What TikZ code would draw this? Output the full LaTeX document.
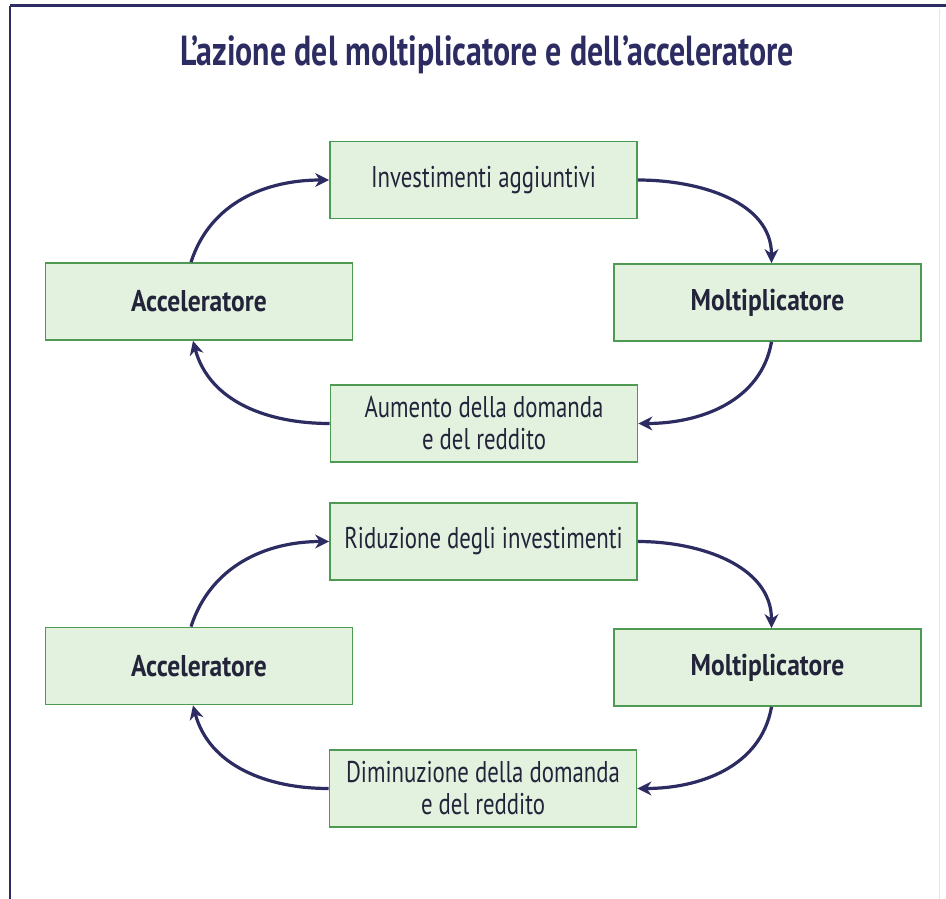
\documentclass[tikz,border=0pt]{standalone}
\usepackage{fontspec}
\setmainfont{PT Sans}[FakeStretch=0.76]
\newfontfamily\keyfont{PT Sans}[FakeStretch=0.85]
\usepackage{xcolor}
\usetikzlibrary{arrows.meta, positioning}
\definecolor{bgreen}{HTML}{E2F2DF}
\definecolor{bline}{HTML}{4E9A52}
\definecolor{knavy}{HTML}{2C2C62}
\definecolor{ktext}{HTML}{23233A}

\begin{document}
\begin{tikzpicture}[x=1pt, y=1pt,
  box/.style={draw=bline, fill=bgreen, line width=1.8pt, minimum width=307pt,
    minimum height=77pt, inner sep=0pt, align=center, text=ktext,
    font=\fontsize{30}{32}\selectfont},
  keybox/.style={box, font=\keyfont\fontsize{30}{32}\selectfont\bfseries},
  flow/.style={draw=knavy, line width=3.2pt, -{Stealth[length=14pt,width=14pt]}}]
\useasboundingbox (0,0) rectangle (946,-899);
% frame
\draw[knavy, line width=3pt] (10,-6) -- (946,-6);
\draw[knavy, line width=2pt] (10,-6) -- (10,-899);
\draw[gray!20, line width=1pt] (939,-9) -- (939,-899);
\node[font=\fontsize{42}{46}\selectfont\bfseries, text=knavy] (title)
  at (487,-55) {L’azione del moltiplicatore e dell’acceleratore};
% upper cycle
\node[box] (inva) at (483.5,-180) {Investimenti aggiuntivi};
\node[keybox] (acca) at (199,-301.5) {Acceleratore};
\node[keybox] (molta) at (767.5,-302.5) {Moltiplicatore};
\node[box] (auma) at (484,-423.5) {Aumento della domanda\\e del reddito};
\draw[flow] ([xshift=-8pt]acca.north) to[out=72, in=180] (inva.west);
\draw[flow] (inva.east) to[out=0, in=90] ([xshift=4pt]molta.north);
\draw[flow] ([xshift=4pt]molta.south) to[out=-100, in=0] (auma.east);
\draw[flow] (auma.west) to[out=180, in=-75] ([xshift=-6pt]acca.south);
% lower cycle
\node[box] (invb) at (483.5,-541.5) {Riduzione degli investimenti};
\node[keybox] (accb) at (199,-666) {Acceleratore};
\node[keybox] (moltb) at (767.5,-667.5) {Moltiplicatore};
\node[box] (aumb) at (483,-788.5) {Diminuzione della domanda\\e del reddito};
\draw[flow] ([xshift=-8pt]accb.north) to[out=72, in=180] (invb.west);
\draw[flow] (invb.east) to[out=0, in=90] ([xshift=4pt]moltb.north);
\draw[flow] ([xshift=4pt]moltb.south) to[out=-100, in=0] (aumb.east);
\draw[flow] (aumb.west) to[out=180, in=-75] ([xshift=-6pt]accb.south);
\end{tikzpicture}
\end{document}
